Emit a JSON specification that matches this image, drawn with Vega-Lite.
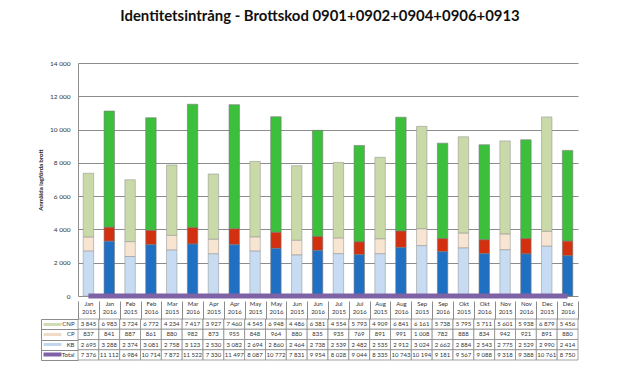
{
  "$schema": "https://vega.github.io/schema/vega-lite/v6.json",
  "padding": {"top": 9, "left": 37, "right": 5, "bottom": 0},
  "title": {"text": "Identitetsintrång - Brottskod 0901+0902+0904+0906+0913", "fontSize": 14.9, "font": "Lato", "fontWeight": "bold", "color": "#111111", "anchor": "middle", "offset": 36, "dx": 12},
  "config": {
    "font": "Lato",
    "locale": {"number": {"decimal": ",", "thousands": " ", "grouping": [3], "currency": ["", " kr"]}},
    "view": {"stroke": null}
  },
  "spacing": -6,
  "data": {"values": [
    {"m":"Jan 2015","yr":2015,"s":"CNP","v":3845},{"m":"Jan 2015","yr":2015,"s":"CP","v":837},{"m":"Jan 2015","yr":2015,"s":"KB","v":2695},{"m":"Jan 2015","yr":2015,"s":"Total","v":7376},
    {"m":"Jan 2016","yr":2016,"s":"CNP","v":6983},{"m":"Jan 2016","yr":2016,"s":"CP","v":841},{"m":"Jan 2016","yr":2016,"s":"KB","v":3288},{"m":"Jan 2016","yr":2016,"s":"Total","v":11112},
    {"m":"Feb 2015","yr":2015,"s":"CNP","v":3724},{"m":"Feb 2015","yr":2015,"s":"CP","v":887},{"m":"Feb 2015","yr":2015,"s":"KB","v":2374},{"m":"Feb 2015","yr":2015,"s":"Total","v":6984},
    {"m":"Feb 2016","yr":2016,"s":"CNP","v":6772},{"m":"Feb 2016","yr":2016,"s":"CP","v":861},{"m":"Feb 2016","yr":2016,"s":"KB","v":3081},{"m":"Feb 2016","yr":2016,"s":"Total","v":10714},
    {"m":"Mar 2015","yr":2015,"s":"CNP","v":4234},{"m":"Mar 2015","yr":2015,"s":"CP","v":880},{"m":"Mar 2015","yr":2015,"s":"KB","v":2758},{"m":"Mar 2015","yr":2015,"s":"Total","v":7872},
    {"m":"Mar 2016","yr":2016,"s":"CNP","v":7417},{"m":"Mar 2016","yr":2016,"s":"CP","v":982},{"m":"Mar 2016","yr":2016,"s":"KB","v":3123},{"m":"Mar 2016","yr":2016,"s":"Total","v":11522},
    {"m":"Apr 2015","yr":2015,"s":"CNP","v":3927},{"m":"Apr 2015","yr":2015,"s":"CP","v":873},{"m":"Apr 2015","yr":2015,"s":"KB","v":2530},{"m":"Apr 2015","yr":2015,"s":"Total","v":7330},
    {"m":"Apr 2016","yr":2016,"s":"CNP","v":7460},{"m":"Apr 2016","yr":2016,"s":"CP","v":955},{"m":"Apr 2016","yr":2016,"s":"KB","v":3082},{"m":"Apr 2016","yr":2016,"s":"Total","v":11497},
    {"m":"May 2015","yr":2015,"s":"CNP","v":4545},{"m":"May 2015","yr":2015,"s":"CP","v":848},{"m":"May 2015","yr":2015,"s":"KB","v":2694},{"m":"May 2015","yr":2015,"s":"Total","v":8087},
    {"m":"May 2016","yr":2016,"s":"CNP","v":6948},{"m":"May 2016","yr":2016,"s":"CP","v":964},{"m":"May 2016","yr":2016,"s":"KB","v":2860},{"m":"May 2016","yr":2016,"s":"Total","v":10772},
    {"m":"Jun 2015","yr":2015,"s":"CNP","v":4486},{"m":"Jun 2015","yr":2015,"s":"CP","v":880},{"m":"Jun 2015","yr":2015,"s":"KB","v":2464},{"m":"Jun 2015","yr":2015,"s":"Total","v":7831},
    {"m":"Jun 2016","yr":2016,"s":"CNP","v":6381},{"m":"Jun 2016","yr":2016,"s":"CP","v":835},{"m":"Jun 2016","yr":2016,"s":"KB","v":2738},{"m":"Jun 2016","yr":2016,"s":"Total","v":9954},
    {"m":"Jul 2015","yr":2015,"s":"CNP","v":4554},{"m":"Jul 2015","yr":2015,"s":"CP","v":935},{"m":"Jul 2015","yr":2015,"s":"KB","v":2539},{"m":"Jul 2015","yr":2015,"s":"Total","v":8028},
    {"m":"Jul 2016","yr":2016,"s":"CNP","v":5793},{"m":"Jul 2016","yr":2016,"s":"CP","v":769},{"m":"Jul 2016","yr":2016,"s":"KB","v":2482},{"m":"Jul 2016","yr":2016,"s":"Total","v":9044},
    {"m":"Aug 2015","yr":2015,"s":"CNP","v":4909},{"m":"Aug 2015","yr":2015,"s":"CP","v":891},{"m":"Aug 2015","yr":2015,"s":"KB","v":2535},{"m":"Aug 2015","yr":2015,"s":"Total","v":8335},
    {"m":"Aug 2016","yr":2016,"s":"CNP","v":6841},{"m":"Aug 2016","yr":2016,"s":"CP","v":991},{"m":"Aug 2016","yr":2016,"s":"KB","v":2912},{"m":"Aug 2016","yr":2016,"s":"Total","v":10743},
    {"m":"Sep 2015","yr":2015,"s":"CNP","v":6161},{"m":"Sep 2015","yr":2015,"s":"CP","v":1008},{"m":"Sep 2015","yr":2015,"s":"KB","v":3024},{"m":"Sep 2015","yr":2015,"s":"Total","v":10194},
    {"m":"Sep 2016","yr":2016,"s":"CNP","v":5738},{"m":"Sep 2016","yr":2016,"s":"CP","v":782},{"m":"Sep 2016","yr":2016,"s":"KB","v":2662},{"m":"Sep 2016","yr":2016,"s":"Total","v":9181},
    {"m":"Okt 2015","yr":2015,"s":"CNP","v":5795},{"m":"Okt 2015","yr":2015,"s":"CP","v":888},{"m":"Okt 2015","yr":2015,"s":"KB","v":2884},{"m":"Okt 2015","yr":2015,"s":"Total","v":9567},
    {"m":"Okt 2016","yr":2016,"s":"CNP","v":5711},{"m":"Okt 2016","yr":2016,"s":"CP","v":834},{"m":"Okt 2016","yr":2016,"s":"KB","v":2543},{"m":"Okt 2016","yr":2016,"s":"Total","v":9088},
    {"m":"Nov 2015","yr":2015,"s":"CNP","v":5601},{"m":"Nov 2015","yr":2015,"s":"CP","v":942},{"m":"Nov 2015","yr":2015,"s":"KB","v":2775},{"m":"Nov 2015","yr":2015,"s":"Total","v":9318},
    {"m":"Nov 2016","yr":2016,"s":"CNP","v":5938},{"m":"Nov 2016","yr":2016,"s":"CP","v":921},{"m":"Nov 2016","yr":2016,"s":"KB","v":2529},{"m":"Nov 2016","yr":2016,"s":"Total","v":9388},
    {"m":"Dec 2015","yr":2015,"s":"CNP","v":6879},{"m":"Dec 2015","yr":2015,"s":"CP","v":891},{"m":"Dec 2015","yr":2015,"s":"KB","v":2990},{"m":"Dec 2015","yr":2015,"s":"Total","v":10761},
    {"m":"Dec 2016","yr":2016,"s":"CNP","v":5456},{"m":"Dec 2016","yr":2016,"s":"CP","v":880},{"m":"Dec 2016","yr":2016,"s":"KB","v":2414},{"m":"Dec 2016","yr":2016,"s":"Total","v":8750}
  ]},
  "vconcat": [
    {
      "width": 500,
      "height": 233,
      "layer": [
        {
          "transform": [{"filter": "datum.yr === 2015 && datum.s !== 'Total'"}],
          "mark": {"type": "bar", "stroke": "#9a9a9a", "strokeWidth": 0.6},
          "encoding": {
            "x": {"field": "m", "type": "nominal", "scale": {"domain": ["Jan 2015","Jan 2016","Feb 2015","Feb 2016","Mar 2015","Mar 2016","Apr 2015","Apr 2016","May 2015","May 2016","Jun 2015","Jun 2016","Jul 2015","Jul 2016","Aug 2015","Aug 2016","Sep 2015","Sep 2016","Okt 2015","Okt 2016","Nov 2015","Nov 2016","Dec 2015","Dec 2016"], "paddingInner": 0.5, "paddingOuter": 0.25}, "axis": null},
            "y": {"field": "v", "type": "quantitative", "stack": "zero", "title": "Anmälda lagförda brott", "scale": {"domain": [0, 14000], "nice": false},
              "axis": {"values": [0,2000,4000,6000,8000,10000,12000,14000], "format": ",d", "titleFontSize": 6, "titleFontWeight": "bold", "titleColor": "#222222", "titlePadding": 6, "labelFontSize": 6.5, "labelColor": "#333333", "labelOverlap": false, "ticks": false, "labelPadding": 8, "domainColor": "#8c8c8c", "gridColor": "#8c8c8c", "gridWidth": 1}},
            "color": {"field": "s", "type": "nominal", "scale": {"domain": ["CNP","CP","KB"], "range": ["#c9d9a7","#f7e5d2","#c7dcf3"]}, "legend": null},
            "order": {"field": "s", "sort": "descending"}
          }
        },
        {
          "transform": [{"filter": "datum.yr === 2016 && datum.s !== 'Total'"}],
          "mark": {"type": "bar", "stroke": "#7a7a7a", "strokeWidth": 0.6},
          "encoding": {
            "x": {"field": "m", "type": "nominal"},
            "y": {"field": "v", "type": "quantitative", "stack": "zero", "title": "Anmälda lagförda brott",
              "axis": {"values": [0,2000,4000,6000,8000,10000,12000,14000], "format": ",d", "titleFontSize": 6, "titleFontWeight": "bold", "titleColor": "#222222", "titlePadding": 6, "labelFontSize": 6.5, "labelColor": "#333333", "labelOverlap": false, "ticks": false, "labelPadding": 8, "domainColor": "#8c8c8c", "gridColor": "#8c8c8c", "gridWidth": 1}},
            "color": {"field": "s", "type": "nominal", "scale": {"domain": ["CNP","CP","KB"], "range": ["#3cc03c","#d2300e","#1f6fc3"]}, "legend": null},
            "order": {"field": "s", "sort": "descending"}
          }
        },
        {
          "transform": [{"filter": "datum.s === 'Total'"}],
          "mark": {"type": "line", "color": "#7d62a6", "strokeWidth": 5, "strokeCap": "butt"},
          "encoding": {
            "x": {"field": "m", "type": "nominal"},
            "y": {"datum": 0, "title": "Anmälda lagförda brott", "axis": {"values": [0,2000,4000,6000,8000,10000,12000,14000], "format": ",d", "titleFontSize": 6, "titleFontWeight": "bold", "titleColor": "#222222", "titlePadding": 6, "labelFontSize": 6.5, "labelColor": "#333333", "labelOverlap": false, "ticks": false, "labelPadding": 8, "domainColor": "#8c8c8c", "gridColor": "#8c8c8c", "gridWidth": 1}}
          }
        }
      ],
      "resolve": {"scale": {"color": "independent"}}
    },
    {
      "width": 500,
      "height": 41,
      "layer": [
        {
          "mark": {"type": "rect", "fill": "white", "stroke": "#8c8c8c", "strokeWidth": 0.8},
          "encoding": {
            "x": {"field": "m", "type": "nominal", "scale": {"domain": ["Jan 2015","Jan 2016","Feb 2015","Feb 2016","Mar 2015","Mar 2016","Apr 2015","Apr 2016","May 2015","May 2016","Jun 2015","Jun 2016","Jul 2015","Jul 2016","Aug 2015","Aug 2016","Sep 2015","Sep 2016","Okt 2015","Okt 2016","Nov 2015","Nov 2016","Dec 2015","Dec 2016"], "paddingInner": 0, "paddingOuter": 0},
              "axis": {"orient": "top", "title": null, "labelExpr": "datum.value ? split(datum.value, ' ') : ''", "labelFontSize": 6, "labelColor": "#333333", "labelAngle": 0, "labelLineHeight": 8, "ticks": true, "tickBand": "extent", "tickSize": 18, "tickColor": "#8c8c8c", "labelPadding": 1, "labelBaseline": "top", "domain": false, "grid": false}},
            "y": {"field": "s", "type": "nominal", "scale": {"domain": ["CNP","CP","KB","Total"], "paddingInner": 0, "paddingOuter": 0},
              "axis": {"orient": "left", "title": null, "labels": false, "domain": false, "grid": false, "ticks": true, "tickBand": "extent", "tickSize": 37, "tickColor": "#8c8c8c"}}
          }
        },
        {
          "mark": {"type": "text", "fontSize": 6, "color": "#333333"},
          "encoding": {
            "x": {"field": "m", "type": "nominal"},
            "y": {"field": "s", "type": "nominal", "axis": {"orient": "left", "title": null, "ticks": false, "domain": false, "grid": false, "labelPadding": 4, "labelFontSize": 6, "labelColor": "#333333"}},
            "text": {"field": "v", "type": "quantitative", "format": ",d"}
          }
        },
        {
          "mark": {"type": "text", "text": ""},
          "encoding": {
            "x": {"field": "m", "type": "nominal"},
            "y": {"field": "s", "type": "nominal", "axis": {"orient": "left", "title": null, "labels": false, "domain": false, "grid": false, "ticks": true, "offset": 17, "tickSize": 18, "bandPosition": 0.5, "tickCap": "butt",
              "tickWidth": {"condition": {"test": "datum.value === 'Total'", "value": 4}, "value": 3},
              "tickColor": {"condition": [{"test": "datum.value === 'Total'", "value": "#7d62a6"}, {"test": "datum.value === 'CNP'", "value": "#cfdcb4"}, {"test": "datum.value === 'CP'", "value": "#f0dcc6"}], "value": "#c2d7ef"}}}
          }
        },
        {
          "mark": {"type": "text", "text": ""},
          "encoding": {
            "x": {"field": "m", "type": "nominal"},
            "y": {"field": "s", "type": "nominal", "axis": {"orient": "left", "title": null, "labels": false, "ticks": false, "grid": false, "offset": 37, "domain": true, "domainColor": "#8c8c8c"}}
          }
        }
      ],
      "resolve": {"axis": {"y": "independent"}}
    }
  ]
}
